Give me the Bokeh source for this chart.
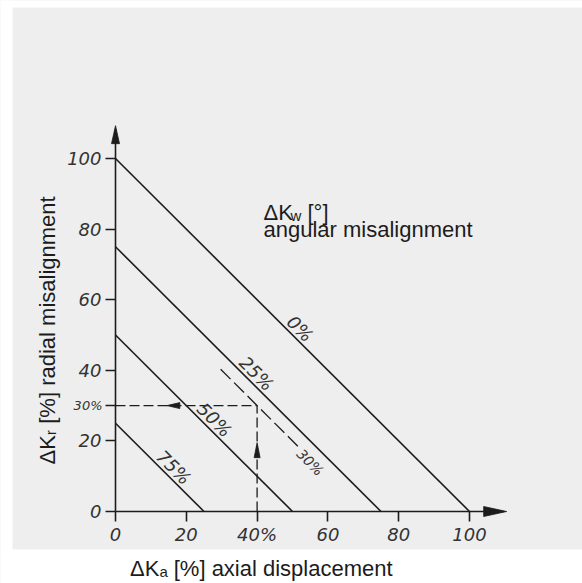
import math
from bokeh.plotting import figure
from bokeh.models import Range1d, Label, BoxAnnotation, FixedTicker
from bokeh.embed import file_html
from bokeh.resources import INLINE

# ---- data ----
axial_ticks = [0, 20, 40, 60, 80, 100]
radial_ticks = [0, 20, 30, 40, 60, 80, 100]
angular_labels = ["0%", "25%", "50%", "75%"]
# each angular-misalignment line runs from (0, end) to (end, 0)
line_ends = [100, 75, 50, 25]
example_axial = 40
example_radial = 30
example_angular_label = "30%"
example_line_end = 70

# ---- layout / style constants ----
W, H = 582, 583
PXX, PXY = 3.54, 3.53          # pixels per data unit
OX, OY = 115, 511              # canvas position of the data origin
X0, X1 = -OX / PXX, (W - OX) / PXX
Y0, Y1 = -(H - OY) / PXY, OY / PXY
XTIP, YTIP = 110.5, 109.3
GRAY = "#eeeeee"
INK = "#1c1c1c"
TXT = "#333333"
LW = 1.6
label_along = [50.2, 37.9, 26.0, 14.5]

p = figure(width=W, height=H, x_range=Range1d(X0, X1), y_range=Range1d(Y0, Y1),
           output_backend="svg", toolbar_location=None, min_border=0)
p.background_fill_color = GRAY
p.border_fill_color = GRAY
p.outline_line_color = None
p.grid.visible = False

# white margins of the scan
p.add_layout(BoxAnnotation(top=(OY - 549) / PXY, fill_color="white", fill_alpha=1,
                           line_alpha=0, level="underlay"))
p.add_layout(BoxAnnotation(right=X0 + 12 / PXX, fill_color="white", fill_alpha=1,
                           line_alpha=0, level="underlay"))
p.add_layout(BoxAnnotation(bottom=Y1 - 7 / PXY, fill_color="white", fill_alpha=1,
                           line_alpha=0, level="underlay"))

for ax in (p.xaxis[0], p.yaxis[0]):
    ax.fixed_location = 0
    ax.axis_line_color = INK
    ax.axis_line_width = LW
    ax.major_tick_line_color = INK
    ax.major_tick_line_width = LW
    ax.major_tick_in = 0
    ax.major_tick_out = 10
    ax.minor_tick_line_color = None
    ax.major_label_text_font = "DejaVu Sans"
    ax.major_label_text_font_style = "italic"
    ax.major_label_text_font_size = "18px"
    ax.major_label_text_color = TXT

p.xaxis.ticker = FixedTicker(ticks=axial_ticks)
p.xaxis.major_label_overrides = {40: "40%"}
p.xaxis.major_label_standoff = 2
p.xaxis.bounds = (0, XTIP - 1)
p.yaxis.ticker = FixedTicker(ticks=radial_ticks)
p.yaxis.major_label_overrides = {30: ""}
p.yaxis.major_label_standoff = 4
p.yaxis.bounds = (0, YTIP - 1)

# angular misalignment lines
p.segment(x0=[0] * len(line_ends), y0=line_ends, x1=line_ends, y1=[0] * len(line_ends),
          line_color=INK, line_width=LW)

# example reading
ds, de = 29.7, 52.2
p.line([ds, de], [example_line_end - ds, example_line_end - de],
       line_color=INK, line_width=1.3, line_dash="14 5")
p.line([0, example_axial], [example_radial, example_radial],
       line_color=INK, line_width=1.3, line_dash="10 4")
p.line([example_axial, example_axial], [0, example_radial],
       line_color=INK, line_width=1.3, line_dash="10 4")


def head(tx, ty, dx, dy, length, half):
    # tip at (tx,ty), pointing in direction (dx,dy); sizes in px
    bx = tx - dx * length / PXX
    by = ty - dy * length / PXY
    nx, ny = -dy, dx
    xs = [tx, bx + nx * half / PXX, bx - nx * half / PXX]
    ys = [ty, by + ny * half / PXY, by - ny * half / PXY]
    return xs, ys


heads = [head(XTIP, 0, 1, 0, 23, 5), head(0, YTIP, 0, 1, 18, 4),
         head(14.5, example_radial, -1, 0, 13, 3), head(example_axial, 19.5, 0, 1, 15, 3)]
p.patches([h[0] for h in heads], [h[1] for h in heads], fill_color=INK, line_color=INK, line_width=0.8)

# line labels
for lab, end, a in zip(angular_labels, line_ends, label_along):
    p.add_layout(Label(x=a, y=end - a, x_offset=7, y_offset=7, angle=-math.pi / 4,
                       text=lab, text_align="center", text_baseline="middle",
                       text_font="DejaVu Sans", text_font_style="italic",
                       text_font_size="18px", text_color=TXT))
p.add_layout(Label(x=55.0, y=13.9, angle=-math.pi / 4,
                   text=example_angular_label, text_align="center", text_baseline="middle",
                   text_font="DejaVu Sans", text_font_style="italic",
                   text_font_size="14px", text_color=TXT))
p.add_layout(Label(x=0, y=example_radial, x_offset=-13, text="30%",
                   text_align="right", text_baseline="middle",
                   text_font="DejaVu Sans", text_font_style="italic",
                   text_font_size="13px", text_color=TXT))

# legend-like title
TF = "Liberation Sans"
p.add_layout(Label(x=41.8, y=84.8, text="ΔK", text_baseline="alphabetic",
                   text_font=TF, text_font_size="22px", text_color=INK))
p.add_layout(Label(x=41.8, y=84.8, x_offset=27, y_offset=-3, text="w", text_baseline="alphabetic",
                   text_font=TF, text_font_size="15px", text_color=INK))
p.add_layout(Label(x=41.8, y=84.8, x_offset=44, text="[°]", text_baseline="alphabetic",
                   text_font=TF, text_font_size="22px", text_color=INK))
p.add_layout(Label(x=41.8, y=79.9, text="angular misalignment", text_baseline="alphabetic",
                   text_font=TF, text_font_size="22px", text_color=INK))

# axis titles
p.add_layout(Label(x=41.2, y=-16.2, text="ΔKₐ [%] axial displacement", text_align="center",
                   text_baseline="alphabetic", text_font=TF, text_font_size="22px", text_color=INK))
p.add_layout(Label(x=-19.2, y=51.3, angle=math.pi / 2, text="ΔKᵣ [%] radial misalignment",
                   text_align="center", text_baseline="middle",
                   text_font=TF, text_font_size="22px", text_color=INK))

open("out.html", "w").write(file_html(p, INLINE))
